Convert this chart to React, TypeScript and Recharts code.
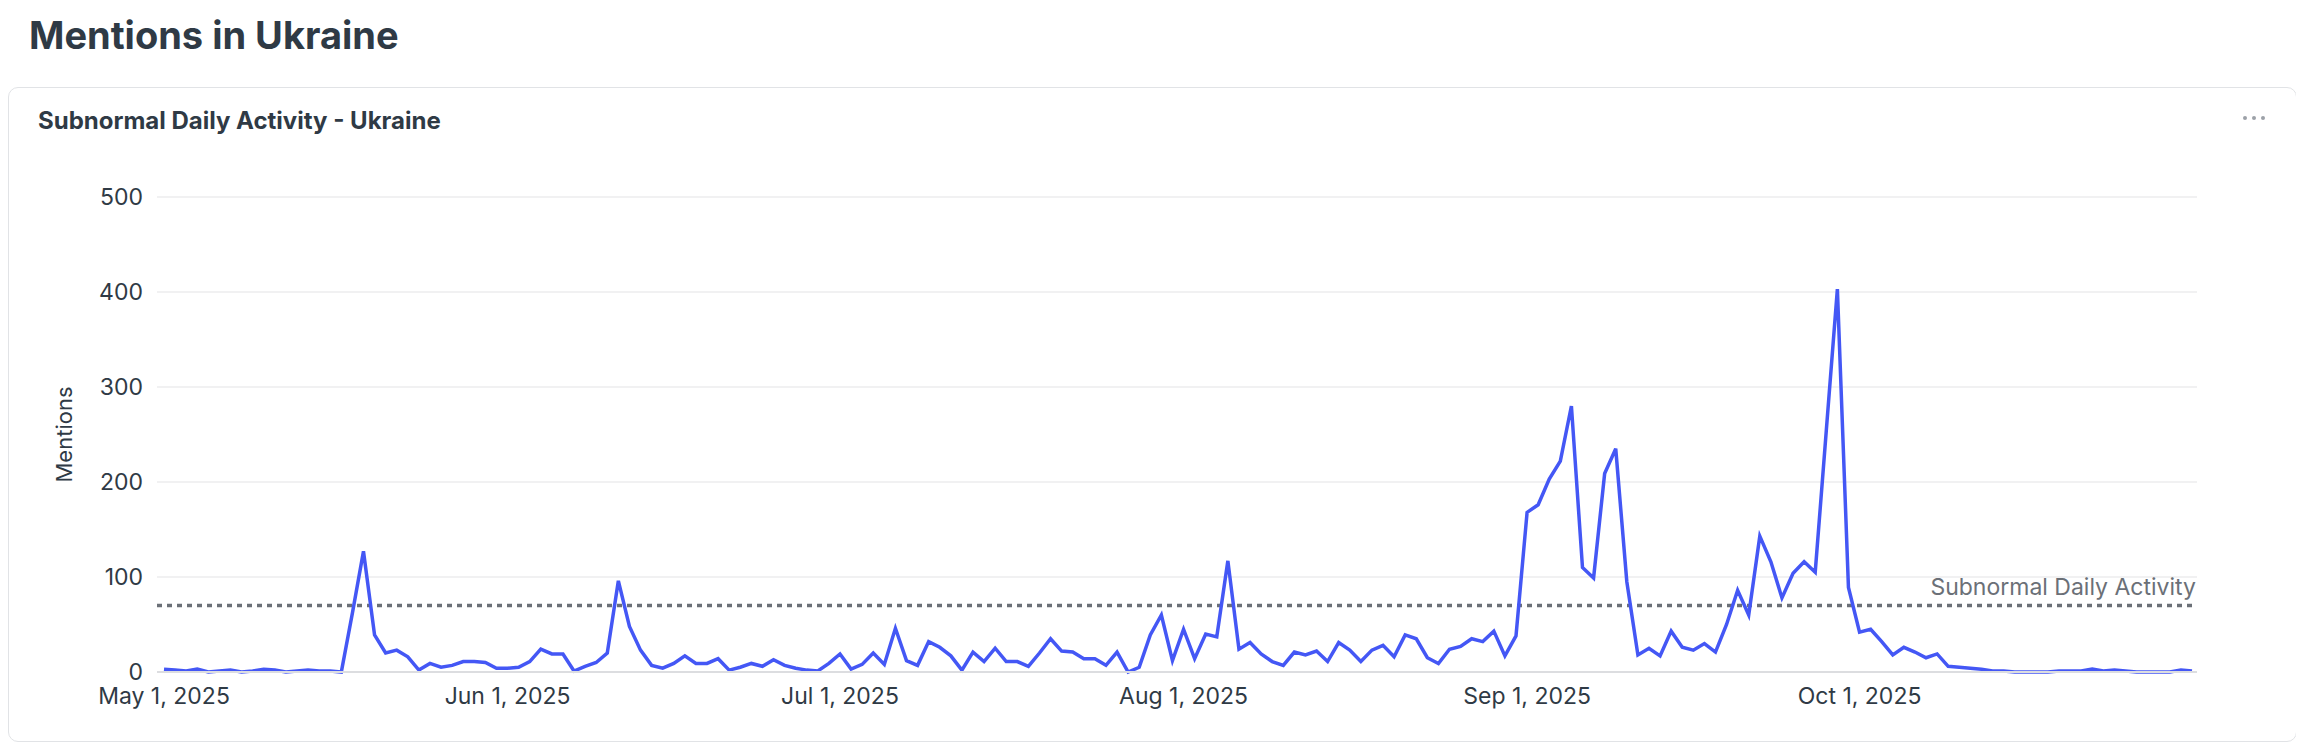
import React from 'react';
import { LineChart, Line, XAxis, YAxis, CartesianGrid, ReferenceLine, Label } from 'recharts';

// Daily mentions, May 1 2025 .. Oct 31 2025
const mentions: number[] = [
  3, 2, 1, 3, 0, 1, 2, 0, 1, 3,
  2, 0, 1, 2, 1, 1, 0, 62, 127, 39,
  20, 23, 16, 2, 9, 5, 7, 11, 11, 10,
  4, 4, 5, 11, 24, 19, 19, 1, 6, 10,
  20, 96, 48, 23, 7, 4, 9, 17, 9, 9,
  14, 2, 5, 9, 6, 13, 7, 4, 2, 1,
  9, 19, 3, 8, 20, 8, 46, 12, 7, 32,
  26, 17, 2, 21, 11, 25, 11, 11, 6, 20,
  35, 22, 21, 14, 14, 7, 21, 0, 5, 39,
  60, 12, 45, 14, 40, 37, 117, 24, 31, 19,
  11, 7, 21, 18, 22, 11, 31, 23, 11, 23,
  28, 16, 39, 35, 15, 9, 24, 27, 35, 32,
  43, 17, 38, 168, 176, 203, 222, 280, 110, 99,
  209, 235, 95, 18, 25, 17, 43, 26, 23, 30,
  21, 50, 86, 60, 143, 116, 78, 104, 116, 105,
  254, 403, 89, 42, 45, 32, 18, 26, 21, 15,
  19, 6, 5, 4, 3, 1, 1, 0, 0, 0,
  0, 1, 1, 1, 3, 1, 2, 1, 0, 0,
  0, 0, 2, 1,
];

const startYear = 2025;
const startMonthIndex = 4; // May
const tickDates = ['2025-05-01', '2025-06-01', '2025-07-01', '2025-08-01', '2025-09-01', '2025-10-01'];
const tickLabels = ['May 1, 2025', 'Jun 1, 2025', 'Jul 1, 2025', 'Aug 1, 2025', 'Sep 1, 2025', 'Oct 1, 2025'];
const yTicks = [0, 100, 200, 300, 400, 500];
const threshold = 70;
const thresholdLabel = 'Subnormal Daily Activity';
const yAxisTitle = 'Mentions';
const pageTitle = 'Mentions in Ukraine';
const cardTitle = 'Subnormal Daily Activity - Ukraine';

const dates = mentions.map((_, i) =>
  new Date(Date.UTC(startYear, startMonthIndex, 1 + i)).toISOString().slice(0, 10)
);
const data = dates.map((date, i) => ({ date, mentions: mentions[i] }));

const FONT = 'Inter, "Noto Sans", sans-serif';
const TEXT = '#2f3a45';
const REF = '#6b7077';

const ThresholdLabel = (props: any) => {
  const vb = props.viewBox || {};
  return (
    <text
      x={(vb.x || 0) + (vb.width || 0) - 1}
      y={(vb.y || 0) - 11}
      textAnchor="end"
      fill={REF}
      fontSize={23}
      fontFamily={FONT}
    >
      {thresholdLabel}
    </text>
  );
};

export default function App() {
  return (
    <div style={{ position: 'relative', width: 2288, height: 738, fontFamily: FONT, color: TEXT }}>
      <div style={{ position: 'absolute', left: 21, top: 4, fontSize: 38, fontWeight: 700, lineHeight: '46px', whiteSpace: 'nowrap' }}>
        {pageTitle}
      </div>
      <div style={{ position: 'absolute', left: 0, top: 79, width: 2289, height: 655, border: '1px solid #e1e3e6', borderRadius: 10, boxSizing: 'border-box', background: '#fff' }} />
      <div style={{ position: 'absolute', left: 30, top: 98, fontSize: 24, fontWeight: 700, lineHeight: '30px', whiteSpace: 'nowrap' }}>
        {cardTitle}
      </div>
      <div style={{ position: 'absolute', left: 2235, top: 108, display: 'flex', gap: 5 }}>
        {[0, 1, 2].map((k) => (
          <div key={k} style={{ width: 4, height: 4, borderRadius: 2, background: '#9ca1a8' }} />
        ))}
      </div>
      <div style={{ position: 'absolute', left: 0, top: 0 }}>
        <LineChart width={2288} height={738} data={data} margin={{ top: 189, right: 99, bottom: 24, left: 0 }}>
          <CartesianGrid horizontal vertical={false} stroke="#ececee" strokeWidth={1.5} />
          <XAxis
            dataKey="date"
            ticks={tickDates}
            interval={0}
            tickFormatter={(v: string) => tickLabels[tickDates.indexOf(v)]}
            tick={{ fill: TEXT, fontSize: 23, fontFamily: FONT }}
            tickLine={false}
            tickSize={0}
            tickMargin={16}
            axisLine={{ stroke: '#dcdde0', strokeWidth: 2 }}
            padding={{ left: 7, right: 5 }}
            height={50}
          />
          <YAxis
            domain={[0, 500]}
            ticks={yTicks}
            interval={0}
            tick={{ fill: TEXT, fontSize: 23, fontFamily: FONT }}
            tickLine={false}
            axisLine={false}
            tickSize={0}
            tickMargin={14}
            width={149}
          >
            <Label
              value={yAxisTitle}
              angle={-90}
              position="insideLeft"
              offset={56}
              style={{ textAnchor: 'middle', fill: TEXT, fontSize: 22, fontFamily: FONT }}
            />
          </YAxis>
          <ReferenceLine
            y={threshold}
            stroke={REF}
            strokeWidth={3.5}
            strokeDasharray="5 5"
            label={<ThresholdLabel />}
          />
          <Line
            type="linear"
            dataKey="mentions"
            stroke="#4457f5"
            strokeWidth={3.5}
            dot={false}
            activeDot={false}
            isAnimationActive={false}
          />
        </LineChart>
      </div>
    </div>
  );
}
